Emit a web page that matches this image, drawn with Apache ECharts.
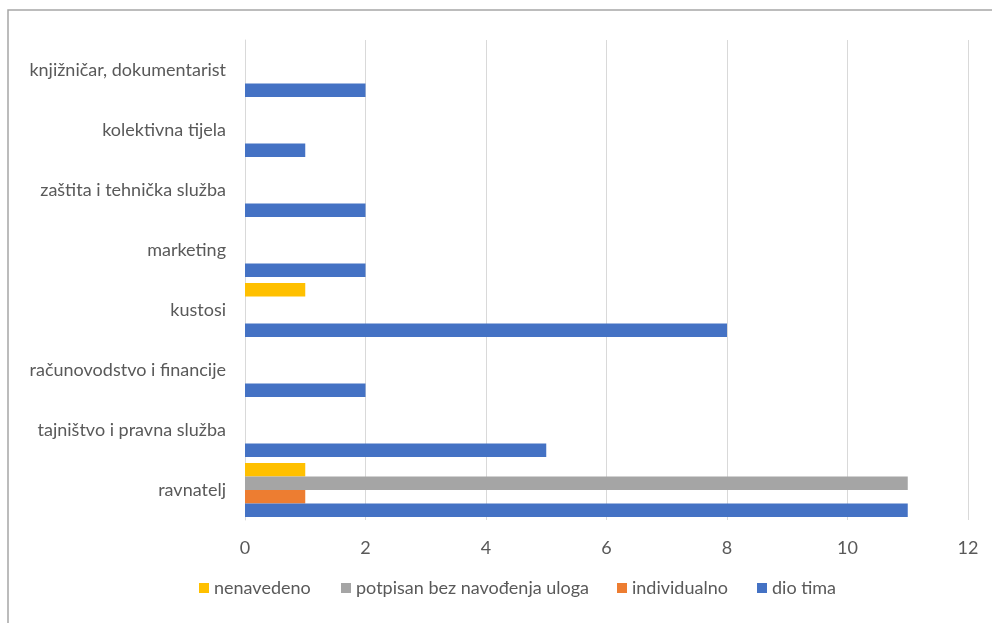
<!DOCTYPE html>
<html>
<head>
<meta charset="utf-8">
<style>
  html, body { margin: 0; padding: 0; background: #ffffff; }
  #chart { width: 992px; height: 623px; }
</style>
<script src="https://cdn.jsdelivr.net/npm/echarts@6/dist/echarts.min.js"></script>
</head>
<body>
<div id="chart"></div>
<script>
// Roles, listed bottom to top on the category axis
const categories = [
  'ravnatelj',
  'tajništvo i pravna služba',
  'računovodstvo i financije',
  'kustosi',
  'marketing',
  'zaštita i tehnička služba',
  'kolektivna tijela',
  'knjižničar, dokumentarist'
];

// Counts per role for each kind of participation
const dioTima      = [11, 5, 2, 8, 2, 2, 1, 2];
const individualno = [1, 0, 0, 0, 0, 0, 0, 0];
const potpisan     = [11, 0, 0, 0, 0, 0, 0, 0];
const nenavedeno   = [1, 0, 0, 1, 0, 0, 0, 0];

// Legend entries in reading order
const legendNames = ['nenavedeno', 'potpisan bez navođenja uloga', 'individualno', 'dio tima'];

const xTicks = { min: 0, max: 12, interval: 2 };

const FONT = 'Lato, "Open Sans", sans-serif';
const TEXT = '#595959';
const SIZE = 18;

const chart = echarts.init(document.getElementById('chart'));

function bar(name, data, color) {
  return {
    name: name,
    type: 'bar',
    data: data,
    itemStyle: { color: color },
    barGap: '0%',
    barCategoryGap: '10%',
    animation: false
  };
}

// One legend block per entry so each sits at its own x
const legendLeft = [194, 336, 612, 752];
const legends = legendNames.map((n, i) => ({
  left: legendLeft[i],
  top: 574,
  itemWidth: 10,
  itemHeight: 10,
  icon: 'rect',
  textStyle: { fontFamily: FONT, fontSize: SIZE, color: TEXT },
  data: [n]
}));

chart.setOption({
  backgroundColor: '#ffffff',
  animation: false,
  textStyle: { fontFamily: FONT, color: TEXT },
  graphic: [{
    type: 'rect',
    shape: { x: 8, y: 10, width: 1200, height: 800 },
    style: { fill: 'none', stroke: '#a6a6a6', lineWidth: 1.5 },
    silent: true,
    z: -10
  }],
  grid: { left: 245, right: 24, top: 40, bottom: 103, containLabel: false },
  legend: legends,
  xAxis: {
    type: 'value',
    min: xTicks.min,
    max: xTicks.max,
    interval: xTicks.interval,
    axisLine: { show: false },
    axisTick: { show: false },
    axisLabel: { fontFamily: FONT, fontSize: SIZE, color: TEXT, margin: 19 },
    splitLine: { show: true, lineStyle: { color: '#d9d9d9', width: 1 } }
  },
  yAxis: {
    type: 'category',
    data: categories,
    axisLine: { show: true, lineStyle: { color: '#d9d9d9', width: 1 } },
    axisTick: { show: false },
    axisLabel: { fontFamily: FONT, fontSize: SIZE, color: TEXT, margin: 19 },
    splitLine: { show: false }
  },
  // Horizontal bars stack their series top-down, so the list runs top slot first
  series: [
    bar('nenavedeno', nenavedeno, '#ffc000'),
    bar('potpisan bez navođenja uloga', potpisan, '#a5a5a5'),
    bar('individualno', individualno, '#ed7d31'),
    bar('dio tima', dioTima, '#4472c4')
  ]
});
</script>
</body>
</html>
